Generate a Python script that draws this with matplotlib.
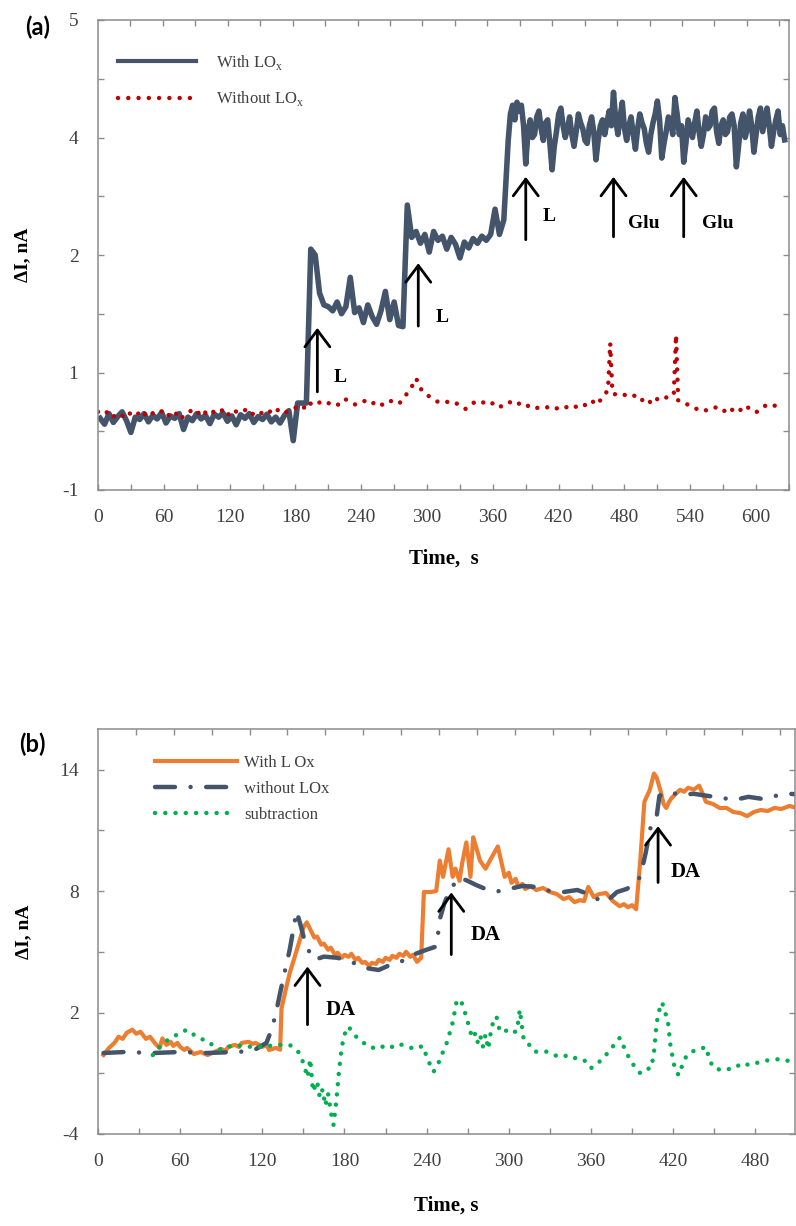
import matplotlib
matplotlib.use("Agg")
import matplotlib.pyplot as plt
from matplotlib.ticker import FixedLocator

plt.rcParams['font.family'] = ['Liberation Serif', 'DejaVu Serif']
plt.rcParams['mathtext.fontset'] = 'custom'
plt.rcParams['mathtext.rm'] = 'Liberation Serif'
plt.rcParams['axes.unicode_minus'] = False

# ---------------- panel (a) ----------------
# y values are in axis steps (one step per tick mark, 0 = bottom tick "-1")
a_ytick_labels = ['-1', '', '1', '', '2', '', '4', '', '5']

t_with = list(range(2, 374, 4)) + list(range(374, 627, 2))
v_with = [1.22, 1.12, 1.30, 1.15, 1.25, 1.33, 1.18, 0.98, 1.24, 1.20,
          1.30, 1.16, 1.27, 1.21, 1.32, 1.14, 1.26, 1.22, 1.30, 1.03,
          1.24, 1.18, 1.30, 1.21, 1.27, 1.13, 1.29, 1.24, 1.31, 1.17,
          1.26, 1.11, 1.28, 1.22, 1.30, 1.15, 1.25, 1.20, 1.29, 1.16,
          1.24, 1.14, 1.27, 1.35, 0.84, 1.48, 1.48, 1.48, 4.10, 4.00,
          3.35, 3.15, 3.12, 3.05, 3.20, 3.00, 3.12, 3.62, 3.02, 3.10,
          2.85, 3.15, 2.95, 2.82, 3.05, 3.38, 2.90, 3.20, 2.80, 2.78,
          4.85, 4.30, 4.40, 4.20, 4.35, 4.05, 4.40, 4.25, 4.32, 4.10,
          4.30, 4.18, 3.95, 4.22, 4.12, 4.28, 4.20, 4.32, 4.25, 4.35,
          4.78, 4.35, 4.60,
          5.95, 6.40, 6.55, 6.30, 6.60, 6.45, 6.55, 6.20, 5.55, 6.10,
          6.30, 6.00, 6.05, 6.35, 6.45, 6.15, 5.95, 6.25, 6.30, 5.90,
          5.45, 5.85, 6.10, 6.40, 6.50, 6.20, 6.00, 6.15, 6.35, 6.05,
          5.85, 6.10, 6.40, 6.25, 6.15, 5.95, 5.90, 6.20, 6.35, 6.10,
          5.62, 5.95, 6.20, 6.30, 6.05, 6.25, 6.45, 6.20, 6.77, 6.30,
          6.05, 6.35, 6.60, 6.15, 5.95, 6.20, 6.35, 6.05, 5.80, 6.15,
          6.40, 6.25, 6.15, 5.90, 5.75, 6.05, 6.25, 6.40, 6.62, 6.30,
          5.65, 5.90, 6.10, 6.35, 6.30, 6.05, 6.68, 6.40, 6.05, 6.20,
          5.58, 5.90, 6.30, 6.15, 6.00, 6.25, 6.45, 6.10, 5.85, 6.05,
          6.35, 6.15, 6.20, 6.45, 6.50, 6.10, 5.90, 6.20, 6.30, 6.05,
          6.10, 6.35, 6.40, 6.20, 5.50, 5.85, 6.25, 6.40, 6.00, 6.15,
          6.45, 6.20, 5.75, 6.05, 6.35, 6.50, 6.10, 6.30, 6.50, 6.20,
          5.85, 6.10, 6.30, 6.45, 6.05, 6.20, 5.96]

t_without = [0, 5, 10, 15, 20, 25, 30, 35, 40, 45,
             50, 55, 60, 65, 70, 75, 80, 85, 90, 95,
             100, 105, 110, 115, 120, 125, 130, 135, 140, 145,
             150, 155, 160, 165, 170, 175, 180, 185, 190, 195,
             200, 205, 210, 215, 220, 225, 230, 235, 240, 245,
             250, 255, 260, 265, 270, 275, 280, 285, 290, 295,
             300, 305, 310, 315, 320, 325, 330, 335, 340, 345,
             350, 355, 360, 365, 370, 375, 380, 385, 390, 395,
             400, 405, 410, 415, 420, 425, 430, 435, 440, 445,
             450, 455, 460, 465, 467, 469,
             475, 480, 485, 490, 495, 500, 505, 510, 515, 520, 525, 527, 529,
             535, 540, 545, 550, 555, 560, 565, 570, 575, 580,
             585, 590, 595, 600, 605, 610, 615, 620]
v_without = [1.33, 1.28, 1.35, 1.25, 1.30, 1.22, 1.32, 1.27, 1.36, 1.24,
             1.31, 1.29, 1.37, 1.26, 1.33, 1.20, 1.30, 1.35, 1.28, 1.38,
             1.27, 1.33, 1.30, 1.39, 1.26, 1.34, 1.31, 1.37, 1.28, 1.35,
             1.30, 1.36, 1.29, 1.38, 1.32, 1.34, 1.40, 1.45, 1.37, 1.50,
             1.47, 1.52, 1.48, 1.43, 1.46, 1.55, 1.50, 1.45, 1.49, 1.53,
             1.47, 1.51, 1.44, 1.50, 1.53, 1.48, 1.60, 1.72, 1.90, 1.70,
             1.62, 1.55, 1.50, 1.52, 1.49, 1.50, 1.43, 1.38, 1.46, 1.51,
             1.48, 1.52, 1.47, 1.40, 1.45, 1.50, 1.44, 1.48, 1.42, 1.45,
             1.40, 1.38, 1.41, 1.37, 1.40, 1.43, 1.38, 1.41, 1.47, 1.44,
             1.52, 1.45, 1.58, 1.70, 2.50, 1.65,
             1.60, 1.62, 1.58, 1.61, 1.52, 1.57, 1.46, 1.55, 1.60, 1.56, 1.65, 2.64, 1.52,
             1.48, 1.43, 1.38, 1.40, 1.35, 1.38, 1.42, 1.36, 1.30, 1.40,
             1.35, 1.44, 1.37, 1.32, 1.40, 1.45, 1.42, 1.46]

a_arrow_t = [200, 292, 390, 470, 534]
a_arrow_head = [2.76, 3.86, 5.33, 5.33, 5.33]
a_arrow_tail = [1.67, 2.79, 4.26, 4.31, 4.31]
a_arrow_text = ['L', 'L', 'L', 'Glu', 'Glu']
a_text_t = [221, 314, 411, 498, 565]
a_text_y = [1.91, 2.94, 4.65, 4.53, 4.53]

# ---------------- panel (b) ----------------
t_lox = [4, 8, 12, 15, 18, 21, 25, 28, 31, 35, 38, 42, 45, 47, 50, 53, 55,
         58, 60, 63, 65, 70, 75, 80, 85, 90, 93, 95, 100, 103, 105, 110,
         113, 115, 120, 123, 125, 130, 133,
         134, 137, 140, 143, 147, 150, 152.5,
         155, 158, 160, 163, 165, 168, 170, 173, 175, 178, 180, 183, 185,
         188, 190, 193, 195, 198, 200, 203, 205, 208, 210, 213, 215, 218,
         220, 223, 225, 228, 230, 233, 236,
         238, 243, 247, 249.6, 252, 254, 256, 259, 261, 264, 266, 269, 272,
         274, 276, 279, 283, 287, 292,
         297, 300, 302, 305, 307, 310, 312, 316, 320, 325, 330, 335, 340,
         344, 348, 352, 355, 358, 362, 366, 371, 376, 381, 384, 387, 390,
         393, 396, 399, 403, 406, 408,
         411, 413, 415, 417, 419, 422, 425, 428, 431, 435, 439, 441, 444,
         449, 454, 459, 464, 469, 474, 479, 484, 489, 494, 499, 505, 510, 515]
v_lox = [-0.1, 0.25, 0.5, 0.8, 0.7, 1.0, 1.15, 0.95, 1.05, 0.7, 0.8, 0.45,
         0.25, 0.72, 0.4, 0.55, 0.35, 0.5, 0.3, 0.15, 0.25, -0.05, 0.05,
         -0.1, 0.05, 0.2, 0.1, 0.3, 0.4, 0.3, 0.5, 0.55, 0.45, 0.5, 0.3,
         0.4, 0.15, 0.25, 0.16,
         2.2, 3.1, 3.95, 4.6, 5.5, 6.2, 6.45,
         6.1, 5.7, 5.75, 5.35, 5.4, 5.1, 5.2, 4.85, 4.95, 4.7, 4.85, 4.75,
         4.9, 4.6, 4.7, 4.45, 4.5, 4.3, 4.45, 4.4, 4.6, 4.5, 4.7, 4.6, 4.8,
         4.7, 4.9, 4.8, 5.0, 4.75, 4.85, 4.5, 4.7,
         7.95, 7.95, 8.0, 9.5, 8.7, 9.4, 10.06, 8.7, 9.1, 8.5, 9.4, 10.4,
         8.7, 10.65, 10.2, 9.5, 9.1, 9.6, 10.2,
         8.7, 8.9, 8.4, 8.6, 8.2, 8.35, 8.1, 8.25, 8.05, 8.15, 7.95, 7.85,
         7.6, 7.7, 7.45, 7.55, 7.5, 8.2, 7.7, 7.85, 7.9, 7.5, 7.25, 7.35,
         7.2, 7.3, 7.1, 9.5, 12.4, 13.0, 13.8, 13.6,
         12.9, 12.3, 12.1, 12.4, 12.6, 12.8, 13.0, 12.9, 13.1, 13.0, 13.2,
         12.9, 12.4, 12.3, 12.1, 12.1, 11.9, 11.85, 11.7, 11.9, 12.0, 11.95,
         12.1, 12.05, 12.2, 12.1, 12.1]

t_nolox = [4, 20, 40, 60, 80, 100, 113, 118, 123, 127, 130, 135, 140, 145,
           148, 152, 158, 165, 175, 185, 195, 205, 215, 225, 232, 240, 247,
           250, 253, 257, 264, 270, 276, 283, 291, 300, 310, 320, 330, 340,
           350, 360, 366, 371, 379, 386, 391, 396, 400, 404, 408, 410, 416,
           425, 435, 445, 455, 465, 475, 485, 495, 505, 515]
v_nolox = [0.0, 0.05, 0.0, 0.05, 0.0, 0.05, 0.1, 0.3, 0.5, 1.2, 2.0, 3.6,
           5.1, 7.0, 6.3, 5.26, 4.6, 4.76, 4.7, 4.5, 4.2, 4.1, 4.4, 4.6,
           4.9, 5.1, 5.26, 6.7, 7.4, 8.07, 8.67, 8.5, 8.3, 8.1, 7.97, 8.1,
           8.25, 8.2, 8.0, 7.95, 8.05, 7.8, 7.55, 7.45, 7.95, 8.1, 8.3, 8.7,
           9.9, 11.3, 11.7, 12.7, 12.9, 12.75, 12.8, 12.7, 12.6, 12.5, 12.65,
           12.55, 12.7, 12.8, 12.75]

t_sub = [40, 45, 50, 55, 60, 65, 70, 75, 80, 85, 90, 95, 100, 105, 110, 115,
         120, 125, 130, 135, 140, 144, 147, 150, 153, 155, 157, 160, 162,
         164, 166, 168, 170, 172, 174, 176, 178, 181, 183, 187, 192, 198,
         205, 210, 215, 220, 226, 232, 237, 242, 245, 248, 251, 255, 259,
         262, 265, 268, 271, 273, 275, 277, 279, 281, 283, 285, 287, 289,
         291, 293, 296, 299, 303, 306, 308, 311, 315, 319, 324, 328, 333,
         338, 344, 350, 355, 360, 365, 370, 373, 377, 381, 386, 390, 396,
         400, 404, 406, 408, 410, 412, 414, 416, 418, 421, 424, 427, 430,
         435, 440, 444, 446, 449, 455, 460, 465, 470, 476, 483, 490, 498,
         505, 512]
v_sub = [-0.1, 0.3, 0.6, 0.8, 1.0, 1.15, 0.9, 0.7, 0.6, 0.3, 0.16, 0.3, 0.4,
         0.35, 0.3, 0.35, 0.3, 0.35, 0.4, 0.4, 0.4, 0.2, 0.0, -0.5, -1.2,
         -0.3, -1.9, -1.4, -2.2, -1.8, -2.6, -2.0, -2.9, -3.55, -2.4, -0.9,
         0.3, 1.15, 1.3, 0.9, 0.6, 0.3, 0.2, 0.4, 0.3, 0.45, 0.3, 0.2, 0.35,
         -0.5, -0.93, -0.6, -0.1, 0.55, 1.5, 2.6, 2.6, 2.0, 1.3, 0.8, 1.0,
         0.5, 0.9, 0.3, 0.9, 0.2, 1.1, 1.64, 1.8, 1.2, 1.3, 1.0, 1.0, 1.1,
         2.14, 0.6, 0.4, 0.06, 0.1, 0.06, -0.1, -0.2, -0.1, -0.3, -0.35,
         -0.75, -0.5, -0.2, 0.1, 0.4, 0.75, 0.0, -0.5, -1.0, -0.8, -0.75,
         0.0, 1.5, 2.14, 2.5, 2.0, 1.7, 0.4, -0.7, -1.1, -0.55, -0.1, 0.1,
         0.2, 0.3, -0.2, -0.7, -0.85, -0.8, -0.75, -0.5, -0.6, -0.45, -0.35,
         -0.3, -0.4, -0.4]

b_arrow_t = [153, 258, 409]
b_arrow_head = [4.27, 7.93, 11.2]
b_arrow_tail = [1.40, 4.86, 8.42]
b_text_t = [177, 283, 429]
b_text_y = [2.14, 5.85, 8.92]

spine_col = '#8c8c8c'
tick_col = '#404040'
navy = '#44546A'


def style_axes(ax, top_n, top_lim):
    for s in ax.spines.values():
        s.set_color(spine_col)
        s.set_linewidth(1.1)
    ax.tick_params(which='both', direction='in', length=4.5, width=1.0,
                   color=spine_col, labelcolor=tick_col, labelsize=14,
                   right=True, top=False, pad=14)
    top = ax.twiny()
    top.set_xlim(0, top_lim)
    top.set_xticks(range(1, top_n + 1))
    top.tick_params(direction='in', length=4.5, width=1.0, color=spine_col,
                    labeltop=False)
    for s in top.spines.values():
        s.set_visible(False)


def arrow(ax, x, y0, y1):
    ax.annotate('', xy=(x, y1), xytext=(x, y0),
                arrowprops=dict(arrowstyle='->,head_length=0.6,head_width=0.45',
                                lw=2, color='black', mutation_scale=20,
                                shrinkA=0, shrinkB=0))


fig = plt.figure(figsize=(7.96, 12.26), dpi=100)

# (a)
ax1 = fig.add_axes([98 / 796, 1 - 490 / 1226, 691 / 796, 470 / 1226])
ax1.plot(t_with, v_with, color=navy, lw=4.0, label='With LO$_\\mathregular{x}$')
ax1.plot(t_without, v_without, color='#C00000', lw=3.2,
         linestyle=(0, (0.01, 2.3)), dash_capstyle='round',
         label='Without LO$_\\mathregular{x}$')
ax1.set_xlim(0, 630)
ax1.set_ylim(0, 8)
ax1.set_xticks(range(0, 601, 60))
ax1.xaxis.set_minor_locator(FixedLocator(range(30, 631, 60)))
ax1.set_yticks(range(0, 9))
ax1.set_yticklabels(a_ytick_labels)
style_axes(ax1, 21, 21.3)
ax1.set_xlabel('Time,  s', fontsize=15, fontweight='bold')
ax1.xaxis.set_label_coords(0.5, -0.125)
ax1.set_ylabel('ΔI, nA', fontsize=14, fontweight='bold')
ax1.yaxis.set_label_coords(-0.096, 0.5)
for x, y0, y1 in zip(a_arrow_t, a_arrow_tail, a_arrow_head):
    arrow(ax1, x, y0, y1)
for x, y, s in zip(a_text_t, a_text_y, a_arrow_text):
    ax1.text(x, y, s, fontsize=14, fontweight='bold', ha='center', va='center')
leg = ax1.legend(loc='upper left', bbox_to_anchor=(0.029, 0.93), frameon=False,
                 fontsize=12, handlelength=4.7, handletextpad=1.2,
                 labelspacing=1.05, borderpad=0, borderaxespad=0)
leg.get_lines()[0].set_linewidth(3.0)
for txt in leg.get_texts():
    txt.set_color(tick_col)
fig.text(38 / 796, 1 - 27 / 1226, '(a)', fontsize=17, fontweight='bold',
         family='Lato', ha='center', va='center')

# (b)
ax2 = fig.add_axes([98 / 796, 1 - 1134 / 1226, 697 / 796, 405 / 1226])
ax2.plot(t_lox, v_lox, color='#ED7D31', lw=3, label='With L Ox')
ax2.plot(t_nolox, v_nolox, color=navy, lw=3.2,
         linestyle=(0, (4.5, 3.5, 0.01, 3.5)), dash_capstyle='round',
         label='without LOx')
ax2.plot(t_sub, v_sub, color='#00B050', lw=3.2,
         linestyle=(0, (0.01, 2.3)), dash_capstyle='round',
         label='subtraction')
ax2.set_xlim(0, 509)
ax2.set_ylim(-4, 16)
ax2.set_xticks(range(0, 481, 60))
ax2.xaxis.set_minor_locator(FixedLocator(range(30, 511, 60)))
ax2.set_yticks([-4, 2, 8, 14])
ax2.yaxis.set_minor_locator(FixedLocator([-1, 5, 11]))
style_axes(ax2, 18, 18.4)
ax2.set_xlabel('Time, s', fontsize=15, fontweight='bold')
ax2.xaxis.set_label_coords(0.5, -0.152)
ax2.set_ylabel('ΔI, nA', fontsize=14, fontweight='bold')
ax2.yaxis.set_label_coords(-0.095, 0.5)
for x, y0, y1 in zip(b_arrow_t, b_arrow_tail, b_arrow_head):
    arrow(ax2, x, y0, y1)
for x, y in zip(b_text_t, b_text_y):
    ax2.text(x, y, 'DA', fontsize=15, fontweight='bold', ha='center', va='center')
leg = ax2.legend(loc='upper left', bbox_to_anchor=(0.082, 0.935), frameon=False,
                 fontsize=12, handlelength=4.9, handletextpad=0.45,
                 labelspacing=0.6, borderpad=0, borderaxespad=0)
for txt in leg.get_texts():
    txt.set_color(tick_col)
fig.text(32 / 796, 1 - 744 / 1226, '(b)', fontsize=17, fontweight='bold',
         family='Lato', ha='center', va='center')

fig.savefig('out.png', dpi=100)
